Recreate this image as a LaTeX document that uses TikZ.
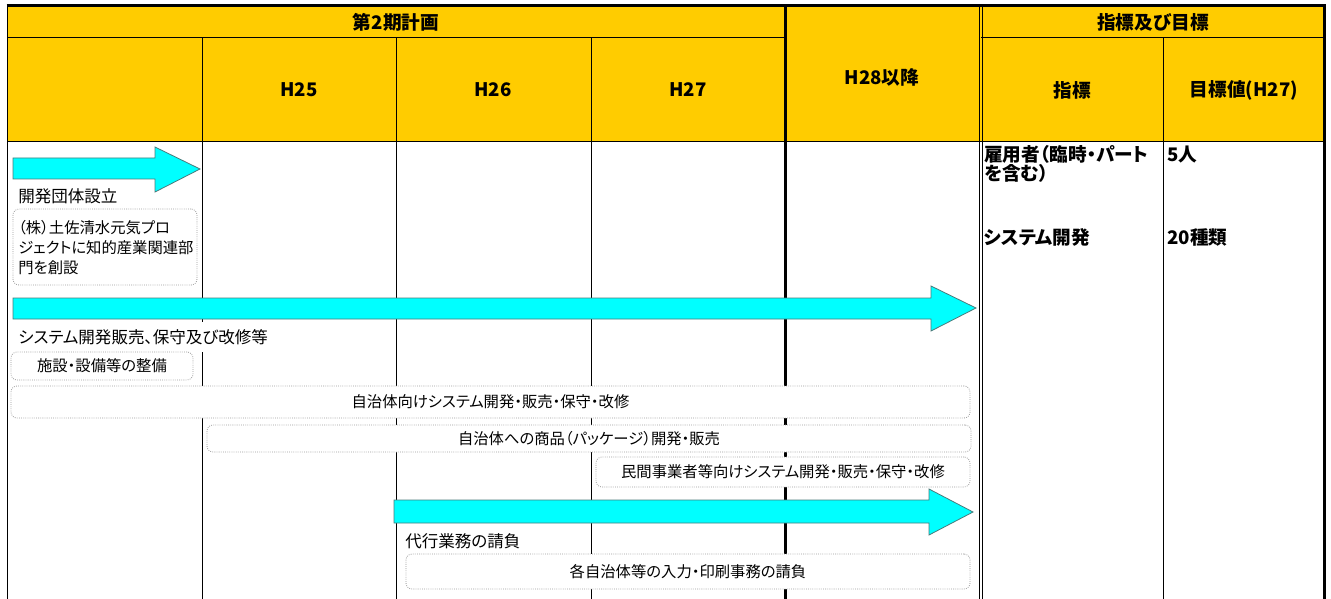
\documentclass[tikz,border=0pt]{standalone}
\usepackage{fontspec}
\setmainfont{Liberation Sans}
\newfontfamily\jp[RawFeature={+palt}]{Noto Sans CJK JP}
\definecolor{hdr}{HTML}{FFCC00}
\definecolor{aqua}{HTML}{00FFFF}
\definecolor{aline}{HTML}{4A7A7A}
\definecolor{dotc}{HTML}{9A9A9A}
\tikzset{
  hdrtext/.style={font=\jp\bfseries\fontsize{14}{16}\selectfont, inner sep=0pt},
  rtext/.style={font=\jp\bfseries\fontsize{14}{13.1}\selectfont, inner sep=0pt, anchor=west, align=left},
  bodyl/.style={font=\jp\fontsize{12.4}{15}\selectfont, inner sep=0pt, fill=white, anchor=west},
  boxtext/.style={font=\jp\fontsize{11.5}{15}\selectfont, inner sep=0pt},
  dbox/.style={draw=dotc, densely dotted, line width=0.6pt, rounded corners=4.5pt, fill=white, inner sep=0pt, font=\jp\fontsize{11.5}{15}\selectfont},
  blockarrow/.style={fill=aqua, draw=aline, line width=0.6pt, line join=miter},
  gridthin/.style={line width=0.75pt},
  gridthick/.style={line width=1.6pt},
}
\begin{document}
\begin{tikzpicture}[x=0.75pt,y=-0.75pt]
\useasboundingbox (0,0) rectangle (1331,599);
\fill[white] (0,0) rectangle (1331,599);
% header background
\fill[hdr] (7,6) rectangle (1325,142);
% grid
\draw[gridthin] (7,38) -- (785,38);
\draw[gridthin] (981,38) -- (1325,38);
\draw[gridthin] (7,142) -- (1325,142);
\draw[gridthin] (7,6) -- (7,599);
\draw[gridthin] (202,38) -- (202,599);
\draw[gridthin] (396,38) -- (396,599);
\draw[gridthin] (591,38) -- (591,599);
\draw[gridthin] (1163,38) -- (1163,599);
\draw[gridthick] (785.5,6) -- (785.5,599);
\draw[gridthin] (979.5,6) -- (979.5,599);
\draw[gridthin] (982.5,6) -- (982.5,599);
\draw[gridthick] (1324.5,5) -- (1324.5,599);
\draw[gridthick] (6.5,5.5) -- (1325.5,5.5);
% header texts
\node[hdrtext] (plan) at (396,22) {第2期計画};
\node[hdrtext] (h25) at (299,90) {H25};
\node[hdrtext] (h26) at (493,90) {H26};
\node[hdrtext] (h27) at (688,90) {H27};
\node[hdrtext] (h28) at (882,77) {H28以降};
\node[hdrtext] (goal) at (1153,22) {指標及び目標};
\node[hdrtext] (ind) at (1072,90) {指標};
\node[hdrtext] (tgt) at (1244,90) {目標値(H27)};
% arrows
\draw[blockarrow] (13,158) -- (155,158) -- (155,147) -- (200,169) -- (155,192) -- (155,179) -- (13,179) -- cycle;
\draw[blockarrow] (13,298) -- (931,298) -- (931,286) -- (976,308) -- (931,331) -- (931,319) -- (13,319) -- cycle;
\draw[blockarrow] (394,500) -- (929,500) -- (929,489) -- (973,512) -- (929,535) -- (929,523) -- (394,523) -- cycle;
% labels
\node[bodyl] (l1) at (18,196) {開発団体設立};
\node[bodyl, minimum height=22pt] (l2) at (18,337) {システム開発販売、保守及び改修等};
\node[bodyl] (l3) at (405,541) {代行業務の請負};
% boxes
\node[dbox, minimum width=138pt, minimum height=57pt] (b1) at (105,247) {};
\node[boxtext, anchor=west, align=left] (b1t) at (18,247.5) {（株）土佐清水元気プロ\\ジェクトに知的産業関連部\\門を創設};
\node[dbox, minimum width=136.5pt, minimum height=21pt] (b2) at (102,366) {施設・設備等の整備};
\node[dbox, minimum width=719.25pt, minimum height=24pt] (b3) at (490.5,402) {自治体向けシステム開発・販売・保守・改修};
\node[dbox, minimum width=573pt, minimum height=20.25pt] (b4) at (589,438.5) {自治体への商品（パッケージ）開発・販売};
\node[dbox, minimum width=280.5pt, minimum height=22.5pt] (b5) at (783,472) {民間事業者等向けシステム開発・販売・保守・改修};
\node[dbox, minimum width=423pt, minimum height=26.25pt] (b6) at (688,571.5) {各自治体等の入力・印刷事務の請負};
% right columns
\node[rtext] (r1) at (984,164) {雇用者（臨時・パート\\を含む）};
\node[rtext] (r2) at (1167,155) {5人};
\node[rtext] (r3) at (984,237) {システム開発};
\node[rtext] (r4) at (1167,237) {20種類};
\end{tikzpicture}
\end{document}
